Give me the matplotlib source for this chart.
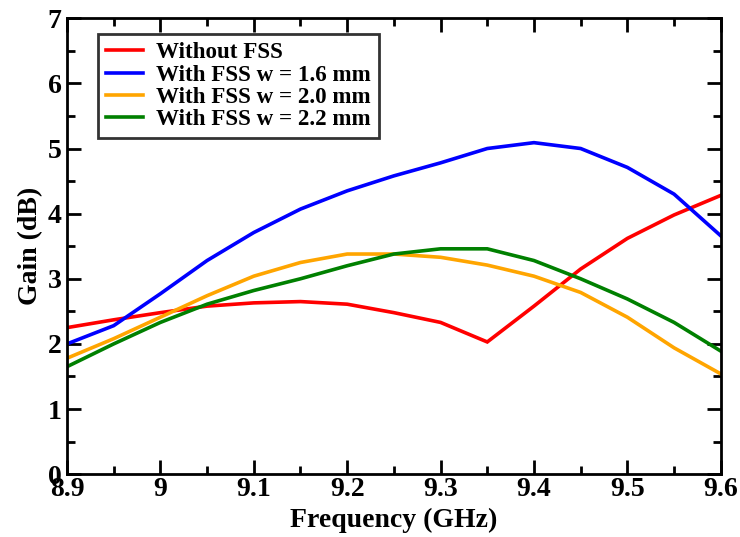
import matplotlib
matplotlib.use("Agg")
import matplotlib.pyplot as plt
from matplotlib.ticker import MultipleLocator

freq = [8.9, 8.95, 9.0, 9.05, 9.1, 9.15, 9.2, 9.25, 9.3, 9.35, 9.4, 9.45, 9.5, 9.55, 9.6]
gain_without = [2.25, 2.37, 2.48, 2.58, 2.63, 2.65, 2.61, 2.48, 2.33, 2.03, 2.58, 3.15, 3.62, 3.98, 4.28]
gain_w16 = [2.0, 2.28, 2.77, 3.28, 3.71, 4.07, 4.35, 4.58, 4.78, 5.0, 5.09, 5.0, 4.71, 4.3, 3.66]
gain_w20 = [1.78, 2.08, 2.41, 2.74, 3.04, 3.25, 3.38, 3.38, 3.33, 3.21, 3.04, 2.79, 2.41, 1.94, 1.54]
gain_w22 = [1.65, 2.0, 2.33, 2.61, 2.82, 3.0, 3.2, 3.38, 3.46, 3.46, 3.28, 3.0, 2.69, 2.33, 1.89]

labels = ["Without FSS", "With FSS w = 1.6 mm", "With FSS w = 2.0 mm", "With FSS w = 2.2 mm"]
colors = ["#ff0000", "#0000ff", "#ffa500", "#008000"]

plt.rcParams["font.family"] = ["Liberation Serif", "DejaVu Serif"]
plt.rcParams["font.weight"] = "bold"

fig = plt.figure(figsize=(7.4, 5.37), dpi=100)
ax = fig.add_axes([0.0905, 0.117, 0.8835, 0.849])

for ys, lab, c in zip([gain_without, gain_w16, gain_w20, gain_w22], labels, colors):
    ax.plot(freq, ys, color=c, lw=2.6, label=lab, solid_joinstyle="miter")

ax.set_xlim(8.9, 9.6)
ax.set_ylim(0, 7)
ax.xaxis.set_minor_locator(MultipleLocator(0.05))
ax.yaxis.set_major_locator(MultipleLocator(1))
ax.yaxis.set_minor_locator(MultipleLocator(0.5))
ax.set_xticks([8.9, 9.0, 9.1, 9.2, 9.3, 9.4, 9.5, 9.6])
ax.set_xticklabels(["8.9", "9", "9.1", "9.2", "9.3", "9.4", "9.5", "9.6"])

ax.tick_params(which="both", direction="in", top=True, right=True, width=2)
ax.tick_params(which="major", length=10, labelsize=20)
ax.tick_params(axis="x", which="major", pad=2)
ax.tick_params(axis="y", which="major", pad=4)
ax.tick_params(which="minor", length=6)
for lbl in ax.get_xticklabels() + ax.get_yticklabels():
    lbl.set_fontweight("bold")
for sp in ax.spines.values():
    sp.set_linewidth(2)

ax.set_xlabel("Frequency (GHz)", fontsize=20, fontweight="bold", labelpad=4)
ax.set_ylabel("Gain (dB)", fontsize=20, fontweight="bold", labelpad=3)

leg = ax.legend(loc="upper left", bbox_to_anchor=(0.047, 0.965),
                prop={"weight": "bold", "size": 16.6}, frameon=True, fancybox=False,
                handlelength=1.6, handletextpad=0.6, borderpad=0.35, labelspacing=0.05,
                borderaxespad=0)
leg.get_frame().set_edgecolor("black")
leg.get_frame().set_linewidth(2)

fig.savefig("out.png", dpi=100)
